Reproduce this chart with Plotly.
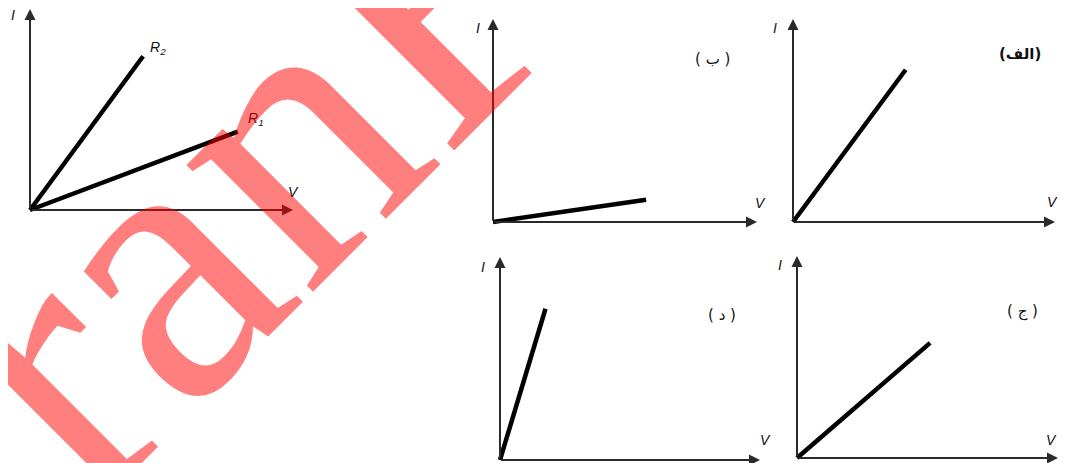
import plotly.graph_objects as go

W, H = 1066, 463
OFF = 8          # the page body margin shifts the figure by this many pixels
AXIS_MAX = 10.0  # every I and V axis runs 0..10 (arbitrary units)

# --- data: straight I-V characteristics, end points in (V, I) axis units ---
R2_V = [0, 4.3]
R2_I = [0, 7.65]
R1_V = [0, 7.9]
R1_I = [0, 3.9]
B_V = [0, 5.8]       # (ب)
B_I = [0, 1.1]
ALEF_V = [0, 4.3]    # (الف)
ALEF_I = [0, 7.5]
DAL_V = [0, 1.75]    # (د)
DAL_I = [0, 7.45]
JIM_V = [0, 5.1]     # (ج)
JIM_I = [0, 5.7]

PANEL_TAGS = ["", "( ب )", "(الف)", "( د )", "( ج )"]
AXIS_TITLES = ("V", "I")
WATERMARK = "iranFile"

# --- layout: pixel geometry (screen pixels) of each little chart ---
# origin x, origin y, tip of V arrow (x), tip of I arrow (y)
PANEL_GEOM = [
    (30, 210, 293, 9),
    (493, 222, 757, 19),
    (793, 222, 1055, 19),
    (500, 460, 760, 257),
    (797, 458, 1058, 256),
]
# where the I / V / tag labels sit (pixels)
I_LABEL_PX = [(13, 15), (478, 28), (775, 28), (483, 267), (780, 265)]
V_LABEL_PX = [(293, 192), (760, 203), (1052, 202), (765, 440), (1051, 440)]
TAG_PX = [None, (712, 59), (1020, 54), (722, 315), (1022, 311)]
PAD = 8
AXIS_COLOR = "#2a2a2a"
LABEL_FONT = dict(family="Liberation Sans", size=14, color="#111")


def px_to_paper(px, py):
    return (px - OFF) / W, 1 - (py - OFF) / H


def ax_names(k):
    s = "" if k == 1 else str(k)
    return "xaxis" + s, "yaxis" + s, "x" + s, "y" + s


fig = go.Figure()
annotations = []

for k, (ox, oy, tx, ty) in enumerate(PANEL_GEOM, start=1):
    sx = (tx - ox) / AXIS_MAX
    sy = (oy - ty) / AXIS_MAX
    left, right = max(ox - PAD, OFF), min(tx + PAD, W + OFF)
    top, bottom = max(ty - PAD, OFF), min(oy + PAD, H + OFF)
    (dx0, dy0), (dx1, dy1) = px_to_paper(left, bottom), px_to_paper(right, top)
    xa, ya, xr, yr = ax_names(k)
    fig.update_layout({
        xa: dict(domain=[dx0, dx1],
                 range=[(left - ox) / sx, (right - ox) / sx],
                 visible=False, fixedrange=True, anchor=yr),
        ya: dict(domain=[dy0, dy1],
                 range=[(oy - bottom) / sy, (oy - top) / sy],
                 visible=False, fixedrange=True, anchor=xr),
    })
    # the two axes with arrow heads
    for (x1, y1) in [(AXIS_MAX, 0), (0, AXIS_MAX)]:
        annotations.append(dict(
            x=x1, y=y1, ax=0, ay=0, xref=xr, yref=yr, axref=xr, ayref=yr,
            text="", showarrow=True, arrowhead=2, arrowsize=1.1,
            arrowwidth=2, arrowcolor=AXIS_COLOR, standoff=0,
        ))

    lx, ly = px_to_paper(*I_LABEL_PX[k - 1])
    annotations.append(dict(
        x=lx, y=ly, xref="paper", yref="paper", showarrow=False,
        xanchor="center", yanchor="middle",
        text="<i>" + AXIS_TITLES[1] + "</i>", font=LABEL_FONT,
    ))
    lx, ly = px_to_paper(*V_LABEL_PX[k - 1])
    annotations.append(dict(
        x=lx, y=ly, xref="paper", yref="paper", showarrow=False,
        xanchor="center", yanchor="middle",
        text="<i>" + AXIS_TITLES[0] + "</i>", font=LABEL_FONT,
    ))
    if TAG_PX[k - 1] is not None:
        lx, ly = px_to_paper(*TAG_PX[k - 1])
        bold = PANEL_TAGS[k - 1] == "(الف)"
        annotations.append(dict(
            x=lx, y=ly, xref="paper", yref="paper", showarrow=False,
            xanchor="center", yanchor="middle",
            text=PANEL_TAGS[k - 1],
            font=dict(family="DejaVu Sans", size=15, color="#111",
                      weight="bold" if bold else "normal"),
        ))

lines = [
    (1, R2_V, R2_I, "R2"),
    (1, R1_V, R1_I, "R1"),
    (2, B_V, B_I, "ب"),
    (3, ALEF_V, ALEF_I, "الف"),
    (4, DAL_V, DAL_I, "د"),
    (5, JIM_V, JIM_I, "ج"),
]
for k, v, i, name in lines:
    _, _, xr, yr = ax_names(k)
    fig.add_trace(go.Scatter(
        x=v, y=i, mode="lines", name=name, xaxis=xr, yaxis=yr,
        line=dict(color="black", width=4.5), hoverinfo="skip",
    ))

# resistor labels at the ends of the two lines in the first chart
annotations.append(dict(
    x=R2_V[-1], y=R2_I[-1], xref="x", yref="y", showarrow=False,
    text="<i>R<sub>2</sub></i>", xanchor="left", xshift=5, yshift=8,
    font=LABEL_FONT,
))
annotations.append(dict(
    x=R1_V[-1], y=R1_I[-1], xref="x", yref="y", showarrow=False,
    text="<i>R<sub>1</sub></i>", xanchor="left", xshift=8, yshift=13,
    font=LABEL_FONT,
))

# red diagonal watermark on top of everything
wx, wy = px_to_paper(351, 67)
annotations.append(dict(
    x=wx, y=wy, xref="paper", yref="paper", showarrow=False,
    xanchor="center", yanchor="middle",
    text=WATERMARK, textangle=-45,
    font=dict(family="Liberation Serif", size=390,
              color="rgba(255,0,0,0.5)"),
))

fig.update_layout(
    width=W, height=H,
    margin=dict(l=0, r=0, t=0, b=0),
    paper_bgcolor="white", plot_bgcolor="white",
    showlegend=False,
    annotations=annotations,
)

fig.write_html("out.html")
